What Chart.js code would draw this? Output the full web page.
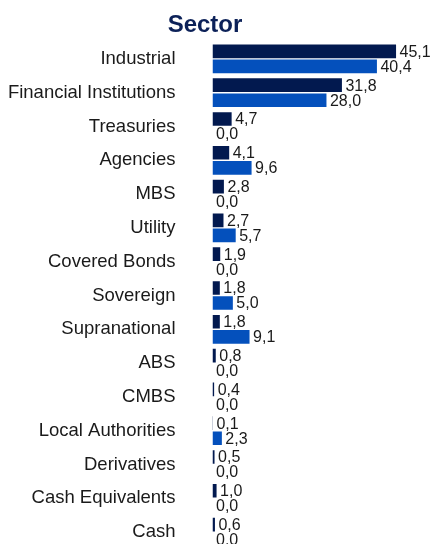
<!DOCTYPE html>
<html><head><meta charset="utf-8">
<script src="https://cdn.jsdelivr.net/npm/chart.js@4/dist/chart.umd.min.js"></script>
<style>
html,body{margin:0;padding:0;background:#fff;overflow:hidden;width:431px;height:544px}
canvas{display:block}
</style></head>
<body><canvas id="c" width="431" height="556" style="width:431px;height:556px"></canvas>
<script>
const categories = ['Industrial','Financial Institutions','Treasuries','Agencies','MBS','Utility','Covered Bonds','Sovereign','Supranational','ABS','CMBS','Local Authorities','Derivatives','Cash Equivalents','Cash'];
const portfolioValues = [45.1,31.8,4.7,4.1,2.8,2.7,1.9,1.8,1.8,0.8,0.4,0.1,0.5,1.0,0.6];
const benchmarkValues = [40.4,28.0,0.0,9.6,0.0,5.7,0.0,5.0,9.1,0.0,0.0,2.3,0.0,0.0,0.0];
const seriesNames = ['Portfolio','Benchmark'];
const titleText = 'Sector';

const FONT = '"Liberation Sans", Arial, Helvetica, sans-serif';

const titlePlugin = {
  id: 'customTitle',
  afterDraw(chart) {
    const ctx = chart.ctx;
    ctx.save();
    ctx.font = 'bold 24px ' + FONT;
    ctx.fillStyle = '#0c2158';
    ctx.textAlign = 'center';
    ctx.textBaseline = 'alphabetic';
    ctx.fillText(titleText, 205, 32);
    ctx.restore();
  }
};

const valueLabels = {
  id: 'valueLabels',
  afterDatasetsDraw(chart) {
    const ctx = chart.ctx;
    ctx.save();
    ctx.font = '16px ' + FONT;
    ctx.fillStyle = '#1a1a1a';
    ctx.textAlign = 'left';
    ctx.textBaseline = 'middle';
    chart.data.datasets.forEach((ds, i) => {
      const meta = chart.getDatasetMeta(i);
      meta.data.forEach((el, j) => {
        const v = ds.data[j];
        const txt = v.toFixed(1).replace('.', ',');
        ctx.fillText(txt, Math.max(el.x, el.base) + 3.5, el.y + 1);
      });
    });
    ctx.restore();
  }
};

new Chart(document.getElementById('c'), {
  type: 'bar',
  data: {
    labels: categories,
    datasets: [
      { label: seriesNames[0], data: portfolioValues, backgroundColor: '#02194f', categoryPercentage: 0.89, barPercentage: 0.91 },
      { label: seriesNames[1], data: benchmarkValues, backgroundColor: '#0450bc', categoryPercentage: 0.89, barPercentage: 0.91 }
    ]
  },
  options: {
    indexAxis: 'y',
    responsive: false,
    devicePixelRatio: 1,
    animation: false,
    layout: { padding: { top: 42, bottom: 7, right: 15, left: 0 } },
    plugins: { legend: { display: false }, title: { display: false }, tooltip: { enabled: false } },
    scales: {
      x: { display: false, min: 0, max: 50 },
      y: {
        grid: { display: false, drawTicks: false },
        border: { display: false },
        ticks: { padding: 37, color: '#1a1a1a', font: { family: FONT, size: 18.5 } },
        afterFit(s) { s.width = 212.5; s.paddingTop = 0; s.paddingBottom = 0; }
      }
    }
  },
  plugins: [titlePlugin, valueLabels]
});
</script>
</body></html>
